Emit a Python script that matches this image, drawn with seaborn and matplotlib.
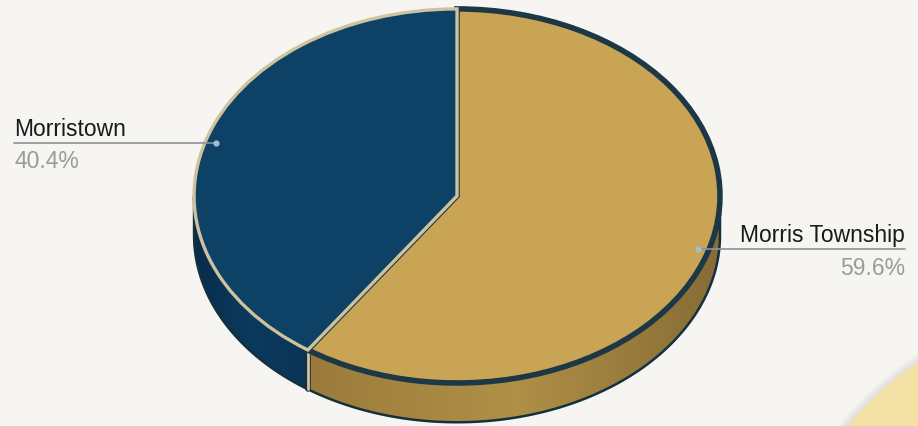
import numpy as np
import matplotlib
matplotlib.use("Agg")
from matplotlib import pyplot as plt
from matplotlib.patches import Polygon, Circle
from matplotlib.colors import LinearSegmentedColormap
from matplotlib.transforms import IdentityTransform
import seaborn as sns

# data
towns = ["Morristown", "Morris Township"]
shares = [40.4, 59.6]
pct_labels = ["40.4%", "59.6%"]

TOP_COLORS = ["#0D4166", "#C9A454"]
SIDE_CMAPS = [["#082C4A", "#0B3A5E", "#0A3455"],
              ["#9A7B3B", "#B09047", "#866C35"]]
EDGE_COLORS = ["#CFC29E", "#1C3846"]
BG = "#F7F5F1"
DEPTH = 0.21

sns.set_theme(style="white")
plt.rcParams['font.family'] = ['Liberation Sans', 'DejaVu Sans']

fig = plt.figure(figsize=(9.18, 4.27), dpi=100, facecolor=BG)
ax = fig.add_axes([0, 0, 1, 1])
ax.set_facecolor(BG)

# yellow card peeking in the bottom right corner, with a soft shadow
card_c = (1082, -188)
for k in range(8, 0, -1):
    ax.add_patch(Circle(card_c, 300 + k, transform=IdentityTransform(),
                        facecolor="#C8C4BA", edgecolor="none", alpha=0.06, zorder=0))
ax.add_patch(Circle(card_c, 300, transform=IdentityTransform(),
                    facecolor="#F3E0A4", edgecolor="none", zorder=0))

wedges, _ = ax.pie(shares, colors=TOP_COLORS, startangle=90, counterclock=True,
                   radius=1, wedgeprops=dict(linewidth=0))

# side of the disc (front half only)
for w, cols in zip(wedges, SIDE_CMAPS):
    lo = max(w.theta1, 180)
    hi = min(w.theta2, 360)
    if hi <= lo:
        continue
    t = np.radians(np.linspace(lo, hi, 120))
    x = np.cos(t)
    y = np.sin(t)
    verts = np.column_stack([np.r_[x, x[::-1]], np.r_[y, y[::-1] - DEPTH]])
    poly = Polygon(verts, closed=True, facecolor="none", edgecolor="#13303F",
                   lw=1.8, zorder=2)
    ax.add_patch(poly)
    cmap = LinearSegmentedColormap.from_list("side", cols)
    grad = np.linspace(0, 1, 256).reshape(1, -1)
    im = ax.imshow(grad, cmap=cmap, aspect="auto", zorder=1,
                   extent=(x.min(), x.max(), y.min() - DEPTH, y.max()))
    im.set_clip_path(poly)

# seam on the side between the two slices
cut = np.radians(wedges[0].theta2)
ax.plot([np.cos(cut)] * 2, [np.sin(cut), np.sin(cut) - DEPTH], color="#13303F", lw=4, zorder=2.5)
ax.plot([np.cos(cut)] * 2, [np.sin(cut), np.sin(cut) - DEPTH], color=EDGE_COLORS[0], lw=2, zorder=2.6)

# top face outlines
wedges[1].set_edgecolor(EDGE_COLORS[1])
wedges[1].set_linewidth(4)
wedges[1].set_zorder(3)
wedges[0].set_edgecolor(EDGE_COLORS[0])
wedges[0].set_linewidth(2.4)
wedges[0].set_zorder(4)

# labels with leader lines
label_x = [-1.684, 1.703]
aligns = ["left", "right"]
for w, name, pct, lx, ha in zip(wedges, towns, pct_labels, label_x, aligns):
    mid = np.radians((w.theta1 + w.theta2) / 2)
    dx, dy = 0.96 * np.cos(mid), 0.96 * np.sin(mid)
    ax.plot([lx, dx], [dy, dy], color="#8C9399", lw=1.2, zorder=6)
    ax.plot(dx, dy, "o", ms=3.5, color="#A8BBCB", zorder=7)
    ax.text(lx, dy + 0.042, name, ha=ha, va="baseline", fontsize=16.5,
            color="#1A1A1A", zorder=8)
    ax.text(lx, dy - 0.132, pct, ha=ha, va="baseline", fontsize=16.5,
            color="#9A9A9A", zorder=8)

ax.set_aspect("auto")
ax.set_xlim(-1.738, 1.753)
ax.set_ylim(-1.230, 1.053)
ax.axis("off")

fig.savefig("out.png", dpi=100, facecolor=BG)
